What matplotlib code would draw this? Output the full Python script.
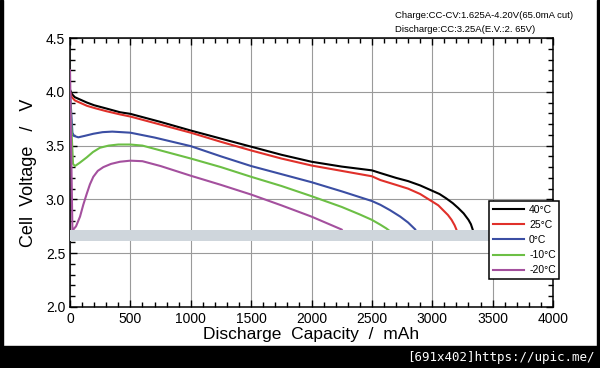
import matplotlib
matplotlib.use("Agg")
import matplotlib.pyplot as plt
from matplotlib.patches import Rectangle
from matplotlib.ticker import MultipleLocator

plt.rcParams['font.family'] = ['Liberation Sans', 'DejaVu Sans']

# ---- data ----
cap_40 = [0, 15, 40, 80, 140, 200, 300, 414, 500, 750, 1000, 1250, 1500, 1750, 2000, 2250, 2500,
          2570, 2700, 2800, 2900, 3000, 3060, 3115, 3170, 3215, 3260, 3300, 3320, 3335, 3345]
v_40 = [4.02, 3.98, 3.95, 3.93, 3.90, 3.875, 3.845, 3.81, 3.795, 3.72, 3.64, 3.565, 3.49, 3.415, 3.35, 3.305, 3.27,
        3.245, 3.20, 3.17, 3.13, 3.08, 3.05, 3.01, 2.965, 2.92, 2.87, 2.81, 2.77, 2.72, 2.65]

cap_25 = [0, 15, 40, 80, 140, 200, 300, 414, 500, 750, 1000, 1250, 1500, 1750, 2000, 2250, 2500,
          2570, 2700, 2800, 2900, 3000, 3050, 3090, 3130, 3160, 3185, 3200, 3215]
v_25 = [4.0, 3.95, 3.92, 3.90, 3.87, 3.85, 3.82, 3.79, 3.77, 3.695, 3.62, 3.535, 3.455, 3.38, 3.315, 3.265, 3.215,
        3.18, 3.135, 3.10, 3.05, 2.98, 2.945, 2.90, 2.855, 2.81, 2.76, 2.72, 2.65]

cap_0 = [0, 20, 33, 69, 120, 193, 270, 350, 500, 700, 1000, 1250, 1500, 1750, 2000, 2250, 2500,
         2570, 2650, 2735, 2800, 2860, 2880]
v_0 = [4.0, 3.62, 3.59, 3.577, 3.59, 3.61, 3.625, 3.63, 3.62, 3.575, 3.495, 3.40, 3.31, 3.235, 3.16, 3.075, 2.985,
       2.95, 2.90, 2.84, 2.785, 2.72, 2.65]

cap_m10 = [0, 25, 41, 80, 138, 190, 248, 320, 400, 500, 600, 750, 1000, 1250, 1500, 1750, 2000, 2250,
           2400, 2500, 2570, 2620, 2655, 2680]
v_m10 = [3.95, 3.33, 3.31, 3.34, 3.39, 3.44, 3.48, 3.50, 3.51, 3.51, 3.50, 3.455, 3.38, 3.30, 3.21, 3.125, 3.03, 2.93,
         2.86, 2.81, 2.765, 2.73, 2.70, 2.65]

cap_m20 = [0, 20, 50, 83, 110, 138, 165, 193, 230, 276, 340, 414, 500, 600, 750, 1000, 1250, 1500, 1750,
           2000, 2250, 2290]
v_m20 = [4.2, 2.71, 2.75, 2.84, 2.95, 3.05, 3.14, 3.21, 3.265, 3.30, 3.33, 3.35, 3.36, 3.355, 3.31, 3.22, 3.135,
         3.045, 2.945, 2.84, 2.72, 2.65]

labels = ['40°C', '25°C', '0°C', '-10°C', '-20°C']
colors = ['#000000', '#e0302a', '#3b4ea3', '#6cbf45', '#a4509e']

xticks = [0, 500, 1000, 1500, 2000, 2500, 3000, 3500, 4000]
yticks = [2.0, 2.5, 3.0, 3.5, 4.0, 4.5]

# ---- figure ----
fig = plt.figure(figsize=(6.0, 3.68), dpi=100)
ax = fig.add_axes([70/600, 1-307/368, (553-70)/600, (307-38)/368])

series = [(cap_40, v_40), (cap_25, v_25), (cap_0, v_0), (cap_m10, v_m10), (cap_m20, v_m20)]
lines = []
for (c, v), lab, col in zip(series, labels, colors):
    ln, = ax.plot(c, v, color=col, lw=1.5, label=lab, zorder=3, solid_joinstyle='round')
    lines.append(ln)

ax.set_xlim(0, 4000)
ax.set_ylim(2.0, 4.5)
ax.set_xticks(xticks)
ax.set_yticks(yticks)
ax.set_xticklabels([str(t) for t in xticks])
ax.set_yticklabels([f"{t:.1f}" for t in yticks])
ax.xaxis.set_minor_locator(MultipleLocator(100))
ax.yaxis.set_minor_locator(MultipleLocator(0.1))
ax.tick_params(which='both', direction='in', top=True, right=True, width=1.0, labelsize=10)
ax.tick_params(which='major', length=5)
ax.tick_params(which='minor', length=3.5)
ax.grid(True, which='major', color='#9a9a9a', lw=0.8, zorder=0)
for s in ax.spines.values():
    s.set_linewidth(1.1)

ax.set_xlabel('Discharge  Capacity  /  mAh', fontsize=12.5, labelpad=1)
ax.set_ylabel('Cell  Voltage   /   V', fontsize=13, labelpad=6)

# gray band across the plot
ax.axhspan(2.613, 2.716, xmin=0, xmax=(489-70)/483, color='#cfd6dc', lw=0, zorder=4)

leg = ax.legend(handles=lines, loc='upper left', bbox_to_anchor=(489/600, 1-201/368),
                bbox_transform=fig.transFigure, borderaxespad=0, fontsize=7.5,
                frameon=True, fancybox=False, edgecolor='black', framealpha=1,
                handlelength=3.0, handletextpad=0.5, labelspacing=0.5,
                borderpad=0.35)
leg.get_frame().set_linewidth(1.1)
leg.set_zorder(5)

fig.text(395/600, 1-15/368, 'Charge:CC-CV:1.625A-4.20V(65.0mA cut)', fontsize=6.8,
         va='center', ha='left')
fig.text(395/600, 1-30/368, 'Discharge:CC:3.25A(E.V.:2. 65V)', fontsize=6.8,
         va='center', ha='left')

# black frame and bottom bar
fig.patches.append(Rectangle((0, 0), 1, 22/368, transform=fig.transFigure, color='black', zorder=10))
fig.patches.append(Rectangle((0, 0), 3/600, 1, transform=fig.transFigure, color='black', zorder=10))
fig.patches.append(Rectangle((1-3/600, 0), 3/600, 1, transform=fig.transFigure, color='black', zorder=10))
fig.text(595/600, 1-358/368, '[691x402]https://upic.me/', color='white', fontsize=9,
         family='DejaVu Sans Mono', ha='right', va='center', zorder=11)

fig.savefig('out.png', dpi=100)
